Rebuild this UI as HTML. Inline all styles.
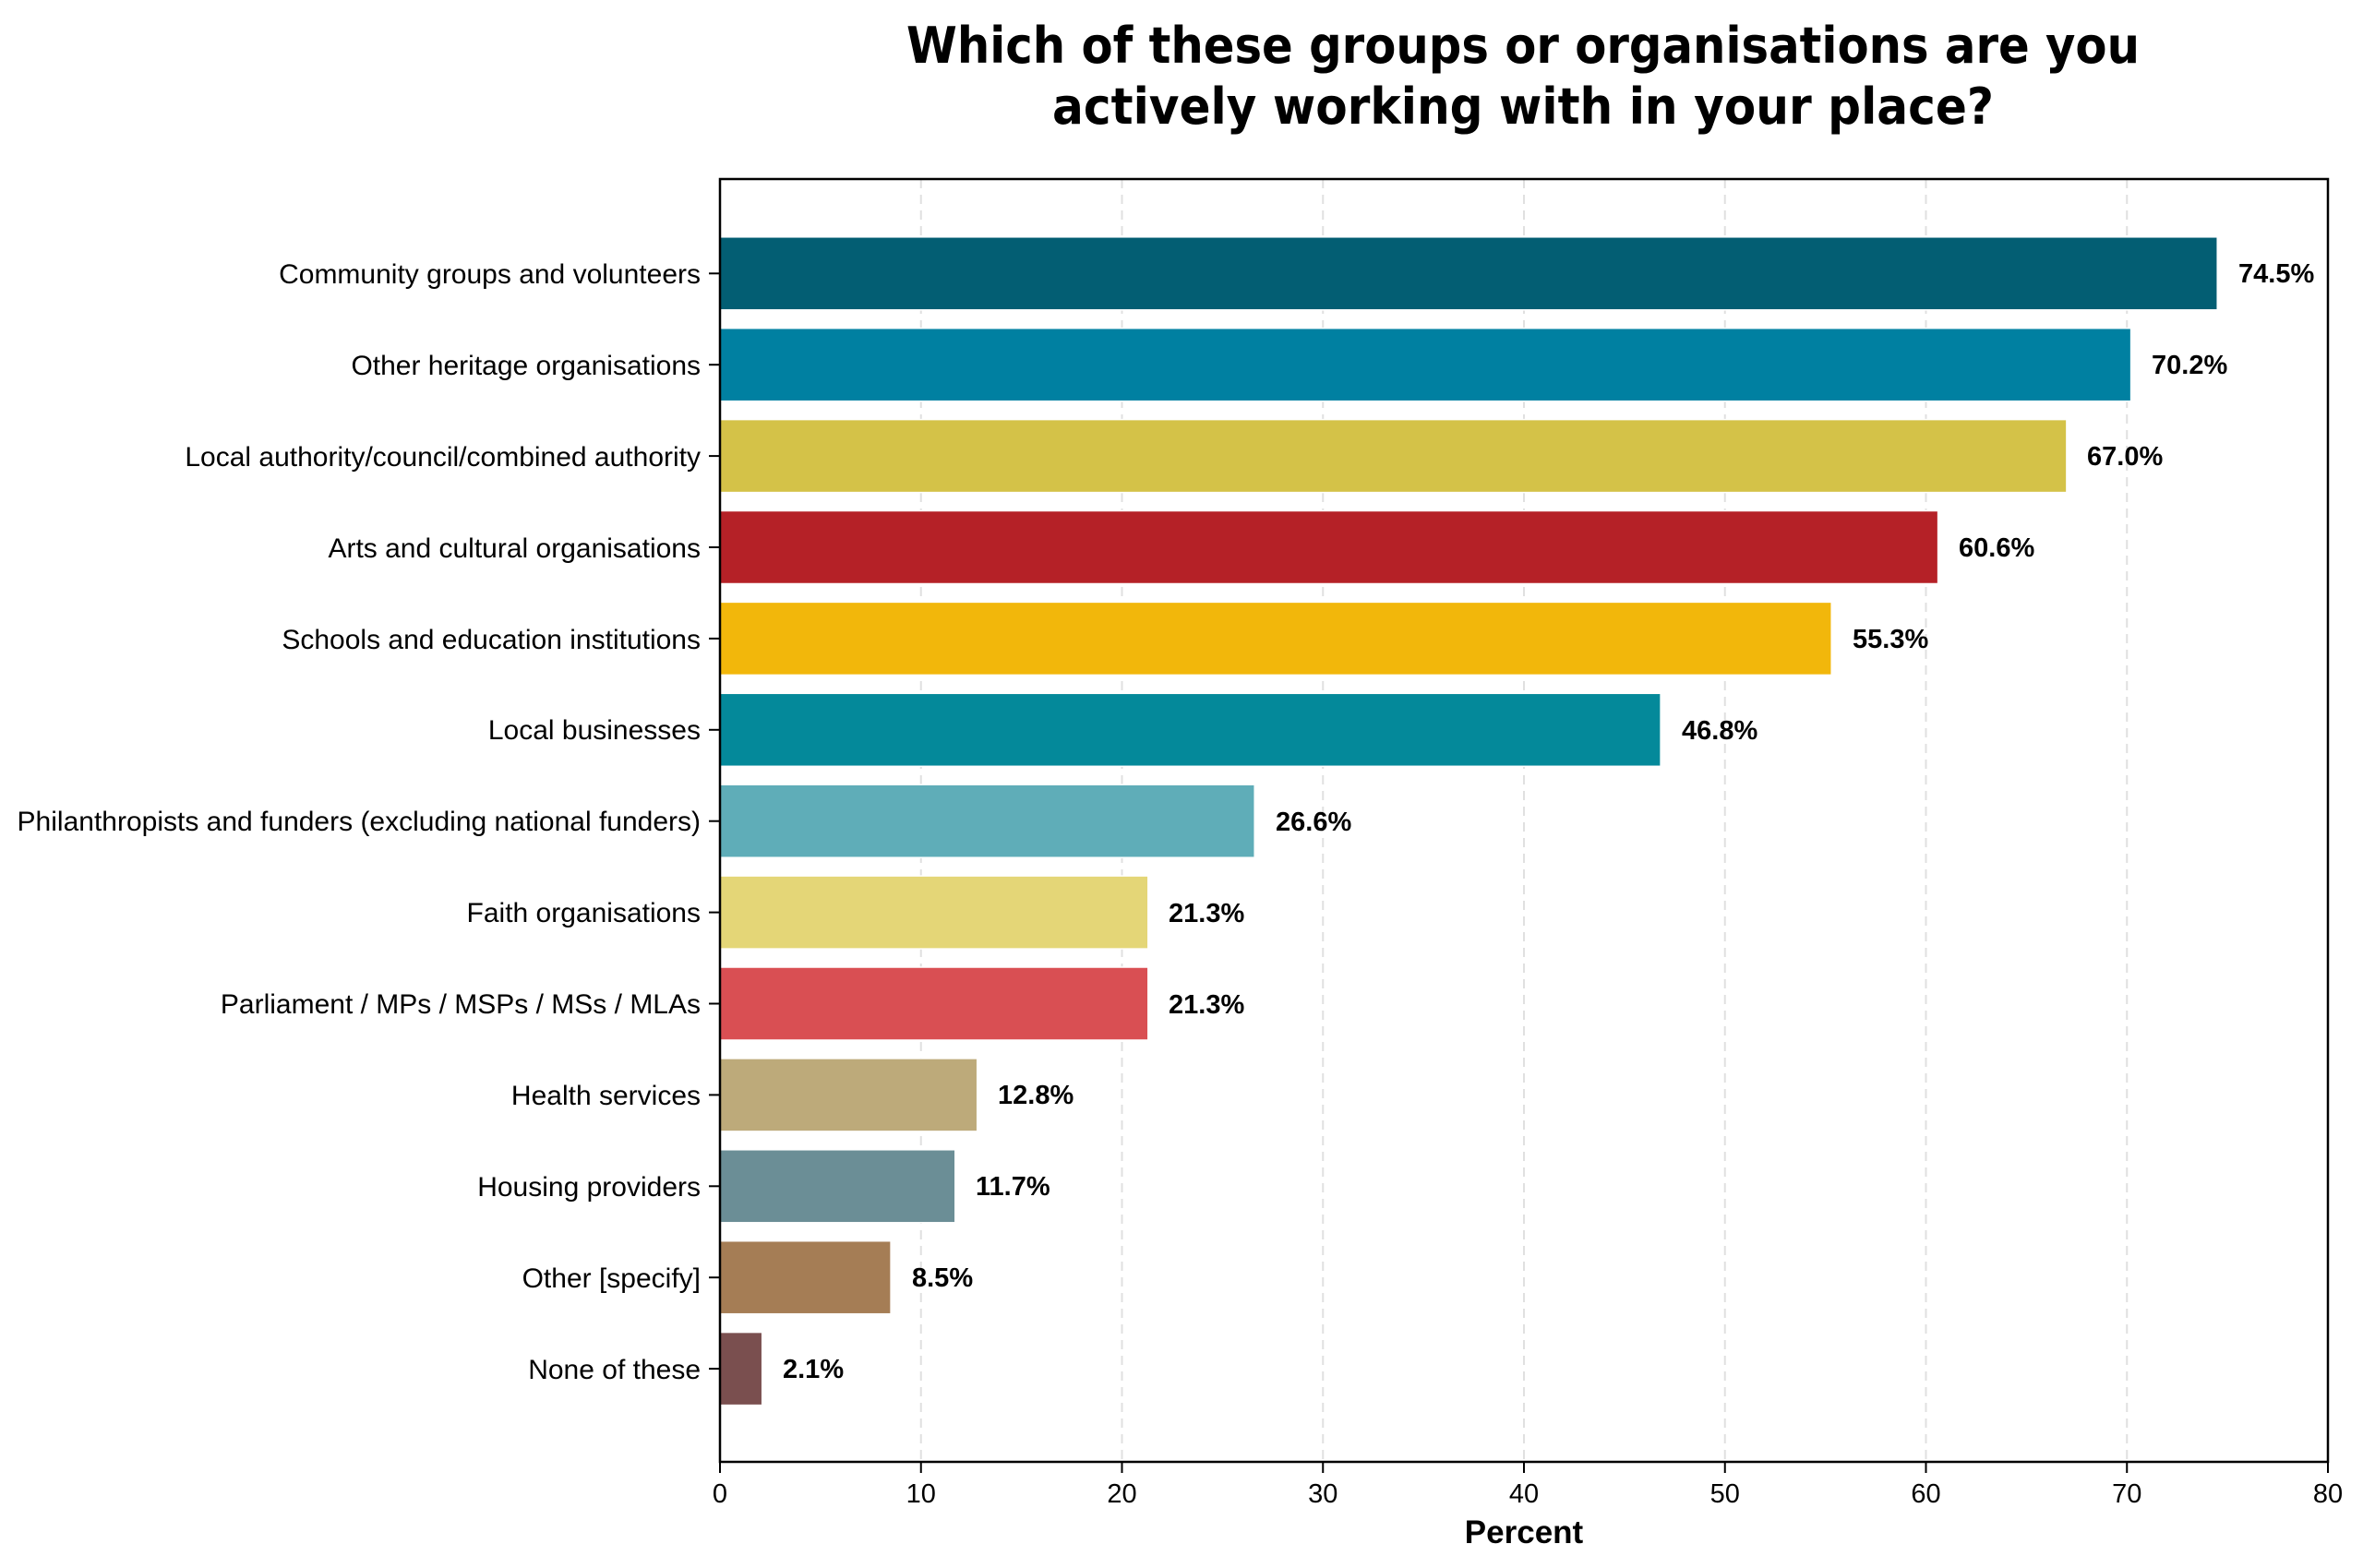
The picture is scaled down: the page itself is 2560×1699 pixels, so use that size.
<!DOCTYPE html>
<html><head><meta charset="utf-8"><style>html,body{margin:0;padding:0;background:#fff}svg{display:block}</style></head>
<body>
<svg width="2560" height="1699" viewBox="0 0 2560 1699" xmlns="http://www.w3.org/2000/svg">
<rect width="2560" height="1699" fill="#fff"/>
<g font-family="DejaVu Sans, Liberation Sans, sans-serif" font-weight="bold" font-size="54" text-anchor="middle" fill="#000">
<text x="1650" y="68" textLength="1336" lengthAdjust="spacingAndGlyphs">Which of these groups or organisations are you</text>
<text x="1650" y="134" textLength="1020" lengthAdjust="spacingAndGlyphs">actively working with in your place?</text>
</g>
<g stroke="#e0e0e0" stroke-width="2" stroke-dasharray="10,7">
<line x1="997.75" y1="194" x2="997.75" y2="1584"/>
<line x1="1215.5" y1="194" x2="1215.5" y2="1584"/>
<line x1="1433.25" y1="194" x2="1433.25" y2="1584"/>
<line x1="1651" y1="194" x2="1651" y2="1584"/>
<line x1="1868.75" y1="194" x2="1868.75" y2="1584"/>
<line x1="2086.5" y1="194" x2="2086.5" y2="1584"/>
<line x1="2304.25" y1="194" x2="2304.25" y2="1584"/>
</g>
<g stroke="#fff" stroke-width="1.5">
<rect x="780" y="256.8" width="1622.2" height="79" fill="#035e73"/>
<rect x="780" y="355.7" width="1528.6" height="79" fill="#0080a1"/>
<rect x="780" y="454.6" width="1458.9" height="79" fill="#d4c248"/>
<rect x="780" y="553.5" width="1319.6" height="79" fill="#b52127"/>
<rect x="780" y="652.4" width="1204.2" height="79" fill="#f2b70b"/>
<rect x="780" y="751.3" width="1019.1" height="79" fill="#04899a"/>
<rect x="780" y="850.2" width="579.2" height="79" fill="#5fadb8"/>
<rect x="780" y="949.1" width="463.8" height="79" fill="#e4d677"/>
<rect x="780" y="1048" width="463.8" height="79" fill="#d94f53"/>
<rect x="780" y="1146.9" width="278.7" height="79" fill="#bdaa7a"/>
<rect x="780" y="1245.8" width="254.8" height="79" fill="#6b8e96"/>
<rect x="780" y="1344.7" width="185.1" height="79" fill="#a57d55"/>
<rect x="780" y="1443.6" width="45.7" height="79" fill="#7a4f4f"/>
</g>
<g font-family="Liberation Sans, Arial, sans-serif" font-weight="bold" font-size="29" fill="#000">
<text x="2425" y="306">74.5%</text>
<text x="2331" y="405">70.2%</text>
<text x="2261" y="504">67.0%</text>
<text x="2122" y="603">60.6%</text>
<text x="2007" y="702">55.3%</text>
<text x="1822" y="801">46.8%</text>
<text x="1382" y="900">26.6%</text>
<text x="1266" y="999">21.3%</text>
<text x="1266" y="1098">21.3%</text>
<text x="1081" y="1196">12.8%</text>
<text x="1057" y="1295">11.7%</text>
<text x="988" y="1394">8.5%</text>
<text x="848" y="1493">2.1%</text>
</g>
<g font-family="Liberation Sans, Arial, sans-serif" font-size="30" text-anchor="end" fill="#000">
<text x="759" y="307">Community groups and volunteers</text>
<text x="759" y="406">Other heritage organisations</text>
<text x="759" y="505">Local authority/council/combined authority</text>
<text x="759" y="604">Arts and cultural organisations</text>
<text x="759" y="703">Schools and education institutions</text>
<text x="759" y="801">Local businesses</text>
<text x="759" y="900">Philanthropists and funders (excluding national funders)</text>
<text x="759" y="999">Faith organisations</text>
<text x="759" y="1098">Parliament / MPs / MSPs / MSs / MLAs</text>
<text x="759" y="1197">Health services</text>
<text x="759" y="1296">Housing providers</text>
<text x="759" y="1395">Other [specify]</text>
<text x="759" y="1494">None of these</text>
</g>
<g stroke="#000" stroke-width="2">
<line x1="768" y1="296.3" x2="780" y2="296.3"/><line x1="768" y1="395.2" x2="780" y2="395.2"/>
<line x1="768" y1="494.1" x2="780" y2="494.1"/><line x1="768" y1="593" x2="780" y2="593"/>
<line x1="768" y1="691.9" x2="780" y2="691.9"/><line x1="768" y1="790.8" x2="780" y2="790.8"/>
<line x1="768" y1="889.7" x2="780" y2="889.7"/><line x1="768" y1="988.6" x2="780" y2="988.6"/>
<line x1="768" y1="1087.5" x2="780" y2="1087.5"/><line x1="768" y1="1186.4" x2="780" y2="1186.4"/>
<line x1="768" y1="1285.3" x2="780" y2="1285.3"/><line x1="768" y1="1384.2" x2="780" y2="1384.2"/>
<line x1="768" y1="1483.1" x2="780" y2="1483.1"/>
<line x1="780" y1="1584" x2="780" y2="1596"/><line x1="997.75" y1="1584" x2="997.75" y2="1596"/>
<line x1="1215.5" y1="1584" x2="1215.5" y2="1596"/><line x1="1433.25" y1="1584" x2="1433.25" y2="1596"/>
<line x1="1651" y1="1584" x2="1651" y2="1596"/><line x1="1868.75" y1="1584" x2="1868.75" y2="1596"/>
<line x1="2086.5" y1="1584" x2="2086.5" y2="1596"/><line x1="2304.25" y1="1584" x2="2304.25" y2="1596"/>
<line x1="2522" y1="1584" x2="2522" y2="1596"/>
</g>
<rect x="780" y="194" width="1742" height="1390" fill="none" stroke="#000" stroke-width="2.5"/>
<g font-family="Liberation Sans, Arial, sans-serif" font-size="29" text-anchor="middle" fill="#000">
<text x="780" y="1628">0</text><text x="997.75" y="1628">10</text><text x="1215.5" y="1628">20</text>
<text x="1433.25" y="1628">30</text><text x="1651" y="1628">40</text><text x="1868.75" y="1628">50</text>
<text x="2086.5" y="1628">60</text><text x="2304.25" y="1628">70</text><text x="2522" y="1628">80</text>
</g>
<text x="1651" y="1672" font-family="Liberation Sans, Arial, sans-serif" font-weight="bold" font-size="35" text-anchor="middle" fill="#000">Percent</text>
</svg>
</body></html>
